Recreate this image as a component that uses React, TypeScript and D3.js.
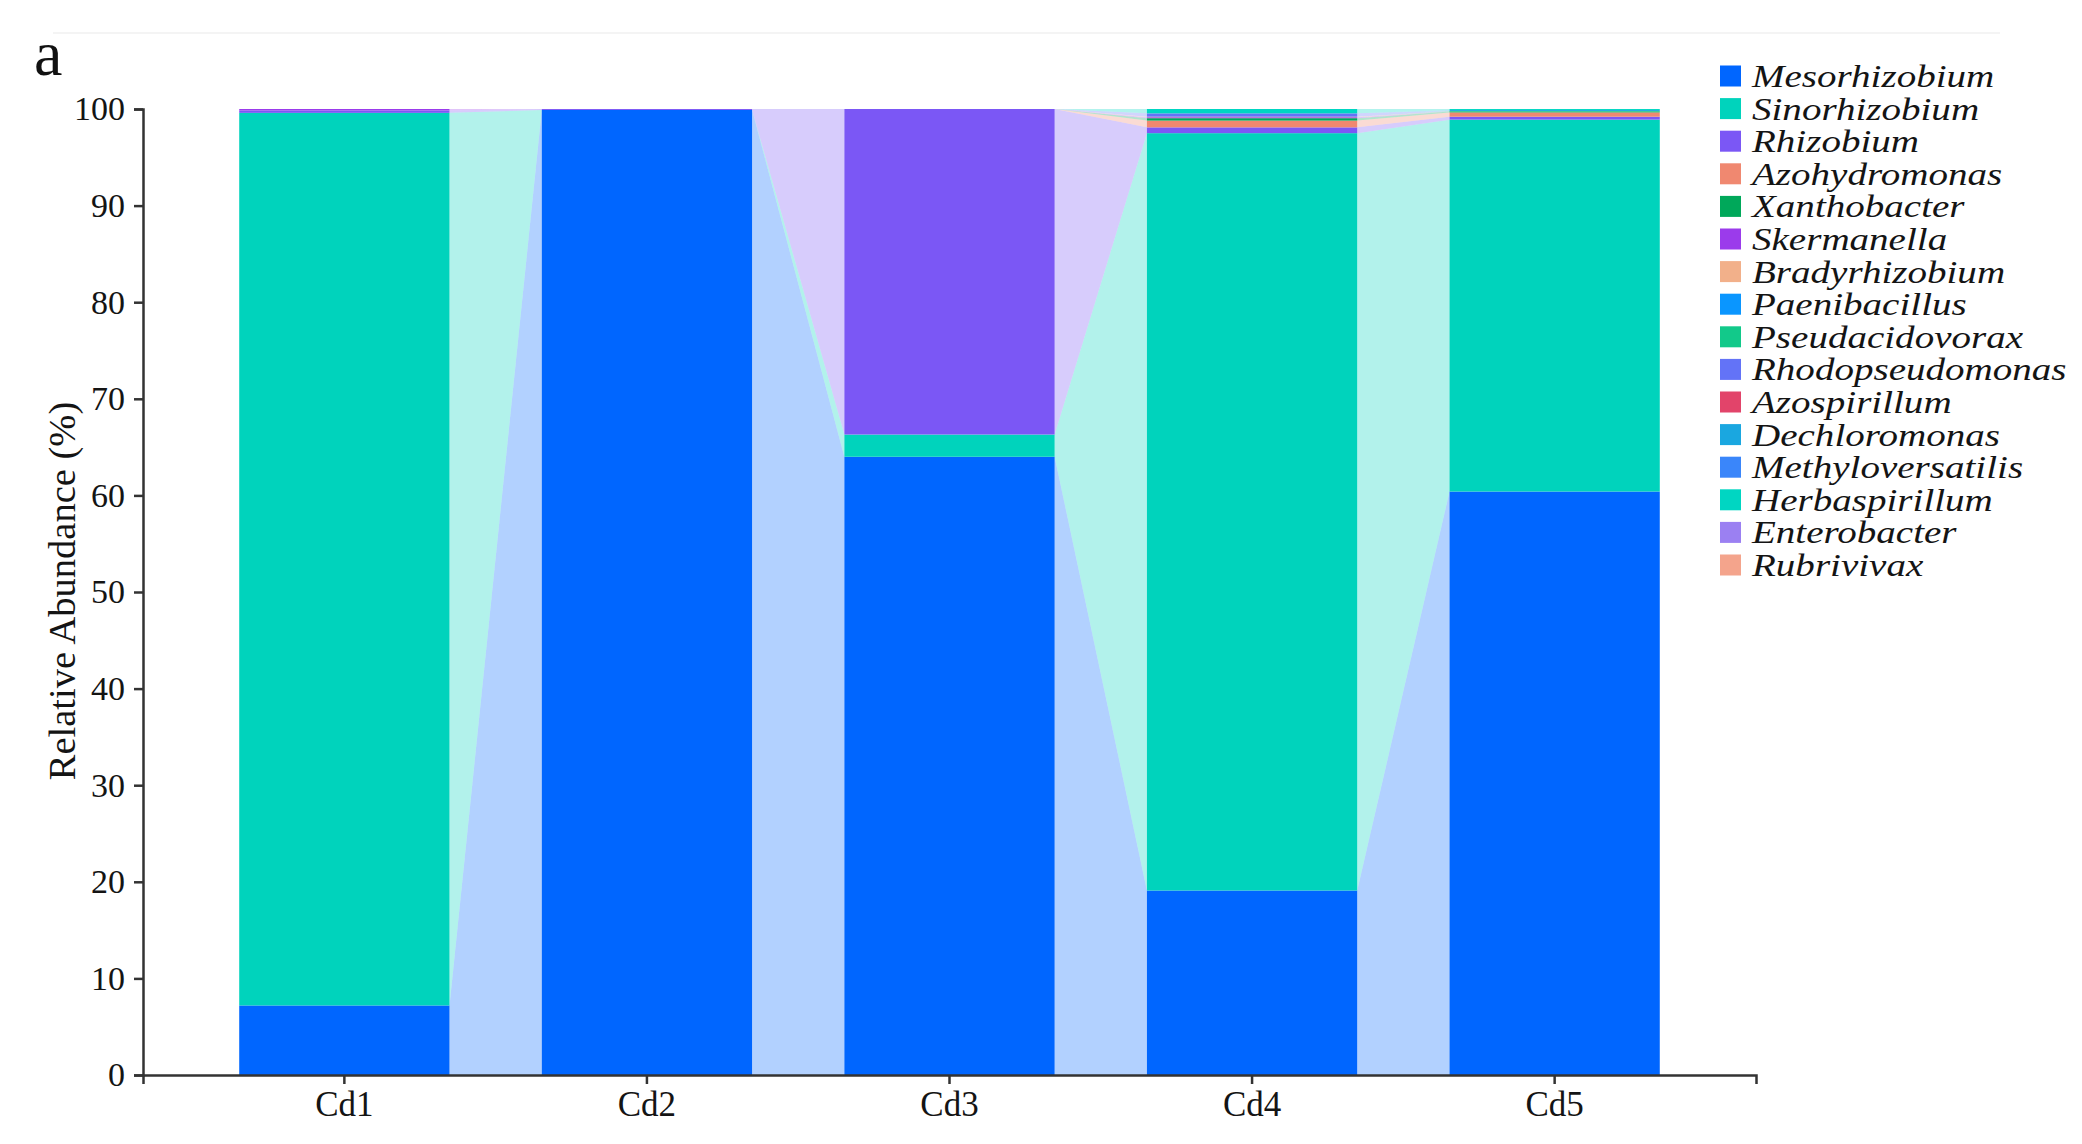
import React, { useEffect, useRef } from "react";
import * as d3 from "d3";

// ---------- data ----------
const categories = ["Cd1", "Cd2", "Cd3", "Cd4", "Cd5"];

const genera = [
  "Mesorhizobium", "Sinorhizobium", "Rhizobium", "Azohydromonas", "Xanthobacter",
  "Skermanella", "Bradyrhizobium", "Paenibacillus", "Pseudacidovorax", "Rhodopseudomonas",
  "Azospirillum", "Dechloromonas", "Methyloversatilis", "Herbaspirillum", "Enterobacter", "Rubrivivax",
];

const generaColors = [
  "#0066FF", "#00D3BC", "#7B57F5", "#F08870", "#00A85A",
  "#9B3BEB", "#F2B08A", "#0A96FF", "#12C98A", "#6373F7",
  "#E2446A", "#1AA7E0", "#3A86FA", "#00D6C2", "#9B80F2", "#F4A48C",
];

// relative abundance (%) per sample, Cd1..Cd5
const mesorhizobium = [7.2, 99.9, 64.0, 19.1, 60.4];
const sinorhizobium = [92.4, 0, 2.3, 78.4, 38.5];
const rhizobium = [0.25, 0.1, 33.7, 0.6, 0.3];
const azohydromonas = [0, 0, 0, 0.7, 0.45];
const xanthobacter = [0, 0, 0, 0.25, 0.1];
const skermanella = [0.15, 0, 0, 0.1, 0];
const bradyrhizobium = [0, 0, 0, 0.05, 0];
const paenibacillus = [0, 0, 0, 0, 0];
const pseudacidovorax = [0, 0, 0, 0, 0.05];
const rhodopseudomonas = [0, 0, 0, 0.35, 0];
const azospirillum = [0, 0, 0, 0, 0];
const dechloromonas = [0, 0, 0, 0, 0.1];
const methyloversatilis = [0, 0, 0, 0, 0];
const herbaspirillum = [0, 0, 0, 0.45, 0.1];
const enterobacter = [0, 0, 0, 0, 0];
const rubrivivax = [0, 0, 0, 0, 0];

const seriesValues = [
  mesorhizobium, sinorhizobium, rhizobium, azohydromonas, xanthobacter,
  skermanella, bradyrhizobium, paenibacillus, pseudacidovorax, rhodopseudomonas,
  azospirillum, dechloromonas, methyloversatilis, herbaspirillum, enterobacter, rubrivivax,
];

const yTicks = [0, 10, 20, 30, 40, 50, 60, 70, 80, 90, 100];

// ---------- layout ----------
const W = 2082;
const H = 1144;
const X0 = 143;
const X1 = 1756;
const Y0 = 1075;
const Y1 = 109;
const SERIF = "'Liberation Serif', 'Times New Roman', serif";

export default function App() {
  const xAxisRef = useRef<SVGGElement>(null);
  const yAxisRef = useRef<SVGGElement>(null);

  const x = d3.scaleBand<string>().domain(categories).range([X0, X1]).paddingInner(0.305).paddingOuter(0.318);
  const y = d3.scaleLinear().domain([0, 100]).range([Y0, Y1]);
  const bw = x.bandwidth();

  const rows = categories.map((c, i) => {
    const o: any = { cat: c };
    genera.forEach((g, j) => (o[g] = seriesValues[j][i]));
    return o;
  });
  const stacked = d3.stack<any>().keys(genera)(rows);
  const color = d3.scaleOrdinal<string, string>().domain(genera).range(generaColors);

  useEffect(() => {
    const xa = d3.select(xAxisRef.current!);
    xa.call(d3.axisBottom(x).tickSize(9).tickSizeOuter(9).tickPadding(7) as any);
    const ya = d3.select(yAxisRef.current!);
    ya.call(d3.axisLeft(y).tickValues(yTicks).tickSize(9).tickSizeOuter(9).tickPadding(9) as any);
    [xa, ya].forEach((g) => {
      g.selectAll("path, line").attr("stroke", "#333").attr("stroke-width", 2.5);
      g.selectAll("text")
        .attr("fill", "#141414")
        .style("font-family", SERIF)
        .style("font-size", "34px");
    });
    xa.selectAll("text").style("font-size", "35px");
  }, []);

  const links: JSX.Element[] = [];
  stacked.forEach((s, si) => {
    for (let i = 0; i < categories.length - 1; i++) {
      const a = s[i];
      const b = s[i + 1];
      if (a[1] - a[0] <= 0 && b[1] - b[0] <= 0) continue;
      const xa = (x(categories[i]) as number) + bw;
      const xb = x(categories[i + 1]) as number;
      const pts = [
        [xa, y(a[1])],
        [xb, y(b[1])],
        [xb, y(b[0])],
        [xa, y(a[0])],
      ];
      links.push(
        <polygon
          key={`l-${si}-${i}`}
          points={pts.map((p) => p.join(",")).join(" ")}
          fill={color(genera[si])}
          fillOpacity={0.3}
        />
      );
    }
  });

  return (
    <svg
      width={W}
      height={H}
      viewBox={`0 0 ${W} ${H}`}
      style={{ position: "absolute", left: 0, top: 0, display: "block", background: "#fff" }}
    >
      <rect x={0} y={0} width={W} height={H} fill="#fff" />
      <line x1={53} x2={2000} y1={33} y2={33} stroke="#f1f1f1" strokeWidth={1.5} />
      <text x={34} y={75} fontFamily={SERIF} fontSize={64} fill="#111">a</text>

      <g>{links}</g>
      <g>
        {stacked.map((s, si) =>
          s.map((d, i) =>
            d[1] - d[0] > 0 ? (
              <rect
                key={`b-${si}-${i}`}
                x={x(categories[i])}
                y={y(d[1])}
                width={bw}
                height={y(d[0]) - y(d[1])}
                fill={color(genera[si])}
              />
            ) : null
          )
        )}
      </g>

      <g ref={xAxisRef} transform={`translate(0,${Y0})`} />
      <g ref={yAxisRef} transform={`translate(${X0},0)`} />

      <text
        transform={`translate(75,591) rotate(-90)`}
        textAnchor="middle"
        fontFamily={SERIF}
        fontSize={38.5}
        fill="#141414"
      >
        Relative Abundance (%)
      </text>

      <g>
        {genera.map((g, i) => {
          const cy = 76 + i * 32.6;
          return (
            <g key={g}>
              <rect x={1720} y={cy - 10.5} width={21} height={21} fill={color(g)} />
              <g transform={`translate(1752,${cy + 11}) scale(1.24,1)`}>
                <text fontFamily={SERIF} fontStyle="italic" fontSize={31.5} fill="#141414">
                  {g}
                </text>
              </g>
            </g>
          );
        })}
      </g>
    </svg>
  );
}
